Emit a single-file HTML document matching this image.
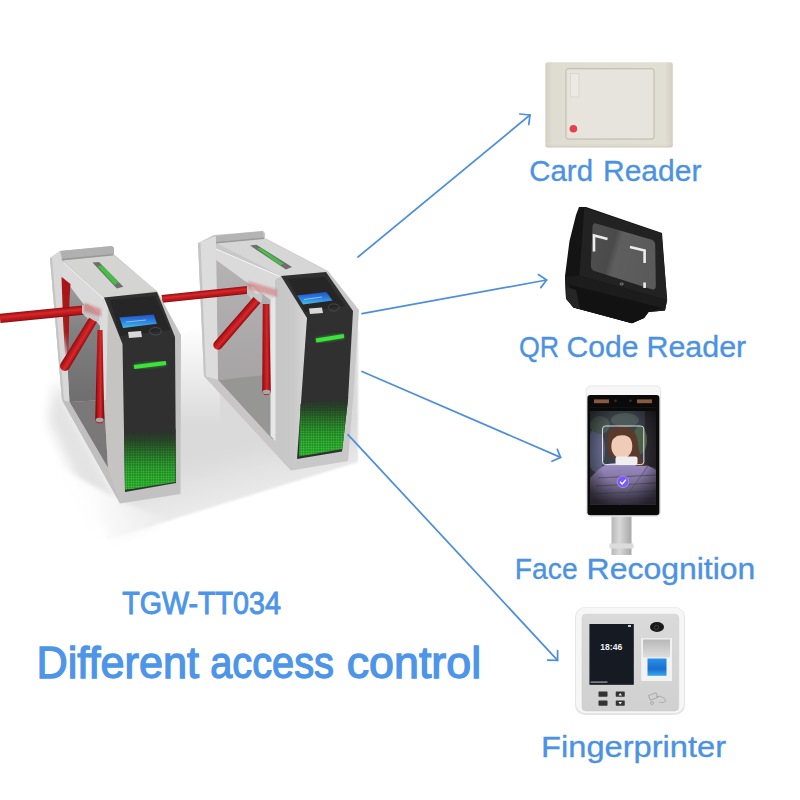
<!DOCTYPE html>
<html><head><meta charset="utf-8">
<style>
html,body{margin:0;padding:0;background:#fff;}
body{width:800px;height:800px;overflow:hidden;position:relative;font-family:"Liberation Sans",sans-serif;}
svg{position:absolute;left:0;top:0;}
</style></head>
<body>
<svg width="800" height="800" viewBox="0 0 800 800">
<defs>
  <filter id="blur6" x="-50%" y="-50%" width="200%" height="200%"><feGaussianBlur stdDeviation="6"/></filter>
  <filter id="blur2" x="-50%" y="-50%" width="200%" height="200%"><feGaussianBlur stdDeviation="2"/></filter>
  <filter id="blur1" x="-50%" y="-50%" width="200%" height="200%"><feGaussianBlur stdDeviation="0.8"/></filter>
  <filter id="blur05" x="-50%" y="-50%" width="200%" height="200%"><feGaussianBlur stdDeviation="0.5"/></filter>
  <linearGradient id="led" x1="0" y1="0" x2="0" y2="1">
    <stop offset="0" stop-color="#303030"/>
    <stop offset="0.2" stop-color="#243a24"/>
    <stop offset="0.6" stop-color="#1d6e1f"/>
    <stop offset="0.97" stop-color="#1f8a21"/>
    <stop offset="1" stop-color="#1a2a1a"/>
  </linearGradient>
  <linearGradient id="ledm" x1="0" y1="0" x2="0" y2="1">
    <stop offset="0" stop-color="#000"/>
    <stop offset="0.15" stop-color="#333"/>
    <stop offset="0.6" stop-color="#ccc"/>
    <stop offset="1" stop-color="#fff"/>
  </linearGradient>
  <mask id="ledmask1" maskContentUnits="userSpaceOnUse"><rect x="120" y="432" width="60" height="62" fill="url(#ledm)"/></mask>
  <mask id="ledmask2" maskContentUnits="userSpaceOnUse"><rect x="295" y="400" width="56" height="60" fill="url(#ledm)"/></mask>
  <pattern id="dots" width="2.5" height="2.5" patternUnits="userSpaceOnUse">
    <rect x="0.45" y="0.45" width="1.6" height="1.6" fill="#44e244"/>
  </pattern>
  <linearGradient id="floor" gradientUnits="userSpaceOnUse" x1="62" y1="466" x2="93" y2="449">
    <stop offset="0" stop-color="#ffffff"/>
    <stop offset="1" stop-color="#e4e4e4"/>
  </linearGradient>
  <linearGradient id="floorG" gradientUnits="userSpaceOnUse" x1="200" y1="455" x2="212" y2="507">
    <stop offset="0" stop-color="#dadada"/>
    <stop offset="1" stop-color="#eaeaea"/>
  </linearGradient>
  <linearGradient id="floorFade" gradientUnits="userSpaceOnUse" x1="95" y1="0" x2="170" y2="0">
    <stop offset="0" stop-color="#fff" stop-opacity="0.9"/>
    <stop offset="1" stop-color="#fff" stop-opacity="0"/>
  </linearGradient>
  <linearGradient id="cab2" gradientUnits="userSpaceOnUse" x1="276" y1="0" x2="306" y2="0">
    <stop offset="0" stop-color="#c6c6c6"/><stop offset="0.6" stop-color="#c9c9c9"/><stop offset="1" stop-color="#d6d6d6"/>
  </linearGradient>
  <linearGradient id="floorV" gradientUnits="userSpaceOnUse" x1="0" y1="325" x2="0" y2="425">
    <stop offset="0" stop-color="#ffffff"/>
    <stop offset="1" stop-color="#ffffff" stop-opacity="0"/>
  </linearGradient>
  <linearGradient id="scr" x1="0" y1="0" x2="0" y2="1">
    <stop offset="0" stop-color="#2552c8"/>
    <stop offset="0.5" stop-color="#2c7fe0"/>
    <stop offset="1" stop-color="#44c0e4"/>
  </linearGradient>
  <linearGradient id="in1" x1="0" y1="0" x2="0" y2="1">
    <stop offset="0" stop-color="#a2a2a2"/>
    <stop offset="0.45" stop-color="#808080"/>
    <stop offset="1" stop-color="#6e6e6e"/>
  </linearGradient>
  <linearGradient id="in2" x1="0" y1="0" x2="0" y2="1">
    <stop offset="0" stop-color="#b4b2b2"/>
    <stop offset="1" stop-color="#a6a4a4"/>
  </linearGradient>
  <linearGradient id="redref" x1="0" y1="0" x2="0" y2="1">
    <stop offset="0" stop-color="#a81616"/>
    <stop offset="0.7" stop-color="#a81616" stop-opacity="0.95"/>
    <stop offset="1" stop-color="#a81616" stop-opacity="0.2"/>
  </linearGradient>
  <radialGradient id="hub" cx="0.5" cy="0.5" r="0.5">
    <stop offset="0" stop-color="#e06a6a"/>
    <stop offset="0.6" stop-color="#e8a0a0" stop-opacity="0.6"/>
    <stop offset="1" stop-color="#f0d0d0" stop-opacity="0"/>
  </radialGradient>
  <linearGradient id="ag1" gradientUnits="userSpaceOnUse" x1="204.59" y1="290.42" x2="205.41" y2="298.18"><stop offset="0" stop-color="#8a0e12"/><stop offset="0.18" stop-color="#b8161b"/><stop offset="0.4" stop-color="#d42a2c"/><stop offset="0.6" stop-color="#c61c20"/><stop offset="0.85" stop-color="#aa1418"/><stop offset="1" stop-color="#7e0c10"/></linearGradient>
  <linearGradient id="ag2" gradientUnits="userSpaceOnUse" x1="241.00" y1="325.53" x2="234.00" y2="319.47"><stop offset="0" stop-color="#8a0e12"/><stop offset="0.18" stop-color="#b8161b"/><stop offset="0.4" stop-color="#d42a2c"/><stop offset="0.6" stop-color="#c61c20"/><stop offset="0.85" stop-color="#aa1418"/><stop offset="1" stop-color="#7e0c10"/></linearGradient>
  <linearGradient id="ag3" gradientUnits="userSpaceOnUse" x1="270.00" y1="347.48" x2="262.50" y2="347.52"><stop offset="0" stop-color="#8a0e12"/><stop offset="0.18" stop-color="#b8161b"/><stop offset="0.4" stop-color="#d42a2c"/><stop offset="0.6" stop-color="#c61c20"/><stop offset="0.85" stop-color="#aa1418"/><stop offset="1" stop-color="#7e0c10"/></linearGradient>
  <linearGradient id="ag4" gradientUnits="userSpaceOnUse" x1="42.54" y1="309.47" x2="43.46" y2="318.73"><stop offset="0" stop-color="#8a0e12"/><stop offset="0.18" stop-color="#b8161b"/><stop offset="0.4" stop-color="#d42a2c"/><stop offset="0.6" stop-color="#c61c20"/><stop offset="0.85" stop-color="#aa1418"/><stop offset="1" stop-color="#7e0c10"/></linearGradient>
  <linearGradient id="ag5" gradientUnits="userSpaceOnUse" x1="83.06" y1="345.47" x2="74.94" y2="340.53"><stop offset="0" stop-color="#8a0e12"/><stop offset="0.18" stop-color="#b8161b"/><stop offset="0.4" stop-color="#d42a2c"/><stop offset="0.6" stop-color="#c61c20"/><stop offset="0.85" stop-color="#aa1418"/><stop offset="1" stop-color="#7e0c10"/></linearGradient>
  <linearGradient id="ag6" gradientUnits="userSpaceOnUse" x1="103.35" y1="374.51" x2="96.35" y2="374.49"><stop offset="0" stop-color="#8a0e12"/><stop offset="0.18" stop-color="#b8161b"/><stop offset="0.4" stop-color="#d42a2c"/><stop offset="0.6" stop-color="#c61c20"/><stop offset="0.85" stop-color="#aa1418"/><stop offset="1" stop-color="#7e0c10"/></linearGradient>
</defs>

<!-- floor shadow -->
<polygon points="56,380 66,400 122,505 160,520 112,536 92,515 48,420" fill="#e3e3e3" filter="url(#blur6)"/>
<polygon points="118,500 106,540 358,462 358,330 190,330 182,335" fill="url(#floorG)" filter="url(#blur1)"/>
<polygon points="60,468 125,503 175,522 106,546 60,546" fill="url(#floorFade)" filter="url(#blur2)"/>
<rect x="150" y="300" width="70" height="130" fill="url(#floorV)"/>

<!-- ===== T2 (right turnstile) ===== -->
<polygon points="198,243 214,235 263,231 265,233 265,238 328,271 359,310 353,400 348,461 291,470.5 204,376" fill="#c8c8c8"/>
<polygon points="216,243 264,238 328,272 281,276" fill="#d6d6d6"/>
<polygon points="214,236 263,231 264,238 216,243" fill="#b4b4b4"/>
<polygon points="216,242 264,237.5 264,239 216,243.5" fill="#9a9a9a"/>
<polygon points="216,249 281,276 276,304 216,260" fill="#dadada"/>
<line x1="216" y1="249" x2="281" y2="277" stroke="#f4f4f4" stroke-width="1"/>
<polygon points="216,260 276,304 275,375 218,380" fill="url(#in2)"/>
<polygon points="218,380 275,374 275,439 272,439" fill="#969694"/>
<polygon points="198.5,243 216,236 216,243 218,380 204,376" fill="#dcdcdc"/>
<polygon points="198,243 200.5,243 206,377 204,376" fill="#c4c4c4"/>
<polygon points="204,376 218,380 273,440 291,470.5" fill="#c8c6c6"/>
<polygon points="275,280 281,276 307,318 298,459 291,470.5 275,440" fill="url(#cab2)"/>
<polygon points="270.5,300 275.5,296 275.5,441 270.5,436" fill="#e6e6e6"/>
<polygon points="250,245.5 256.5,244.8 292,267 286,269.5" fill="#6e6e6e"/>
<polygon points="257,248.6 260.8,248 283.5,263.6 280.5,265.2" fill="#40c440"/>
<polygon points="281,276 326,272 353,311 348,400 342,451.5 297,459 307,318" fill="#303030"/>
<polygon points="288,279 325,277 345,306 305,312" fill="#262626"/>
<polygon points="297,295.6 326.3,292 332.5,300.6 303,304.4" fill="url(#scr)"/>
<line x1="304" y1="299.5" x2="322" y2="297" stroke="#cfe8ff" stroke-width="1" opacity="0.6"/>
<polygon points="309,308.5 322,307.5 323,313 310,314" fill="#d8d8d8"/>
<ellipse cx="333.8" cy="307.5" rx="5.5" ry="3.6" fill="none" stroke="#505050" stroke-width="0.8"/>
<line x1="316" y1="340.5" x2="344" y2="336" stroke="#3be33b" stroke-width="6" opacity="0.35" filter="url(#blur1)"/>
<line x1="316" y1="340.5" x2="344" y2="336" stroke="#3be33b" stroke-width="4"/>
<polygon points="300.5,404 348.2,397 342.3,449 299,456.5" fill="url(#led)"/>
<polygon points="300.5,404 348.2,397 342.3,449 299,456.5" fill="url(#dots)" mask="url(#ledmask2)"/>

<!-- T2 arms -->
<path d="M162.41,302.68 L248.41,293.68 A3.90,3.90 0 0 0 247.59,285.92 L161.59,294.92 Z" fill="url(#ag1)"/>
<polygon points="247,286 254,285 262,293 262,302 254,302 247,294" fill="#c6c6c6"/>
<polygon points="250,287 254,286.5 260,293 256,294" fill="#dedede"/>
<path d="M253.60,297.05 L214.41,341.89 A4.75,4.75 0 0 0 221.59,348.11 L260.40,302.95 Z" fill="url(#ag2)"/>
<path d="M262.75,304.02 L262.25,391.02 A4.25,4.25 0 0 0 270.75,390.98 L269.25,303.98 Z" fill="url(#ag3)"/>
<polygon points="248,281 277,289.5 277,297 248,289" fill="#d25858" opacity="0.45" filter="url(#blur1)"/>
<ellipse cx="266.5" cy="392" rx="4" ry="2.2" fill="#a8a8a8"/>

<!-- ===== T1 (left turnstile) ===== -->
<polygon points="50,258 60,251 112,246 114,248 114,254.5 157.4,291.7 181,335 180.5,494 120,503.5 62,400" fill="#c2c2c2"/>
<polygon points="62,260 113,255 157,291 104,298" fill="#d4d4d2"/>
<polygon points="60,251 112,246 114,248 114,254.5 63,259.5" fill="#b0b0b0"/>
<polygon points="62,258.8 113,254 113,255.5 62,260.5" fill="#989898"/>
<polygon points="62,261 104,298 103,312 100,326 62,276" fill="#dadada"/>
<line x1="64" y1="263" x2="104" y2="299" stroke="#f2f2f2" stroke-width="1"/>
<polygon points="62,276 100,326 104,400 69.5,402" fill="url(#in1)"/>
<polygon points="69.5,402 104,400 108,468" fill="#7a7878"/>
<polygon points="50,258 60,251 62,262 69.5,402 62,400" fill="#d8d8d8"/>
<polygon points="50,258 52,258 64,400 62,400" fill="#c4c4c4"/>
<polygon points="61.5,277 70.5,284 69.5,300 68.5,356 65,354 63,320" fill="url(#redref)"/>
<polygon points="62,400 69.5,402 108,468 120,503" fill="#bfbfbf"/>
<polygon points="100,326 104,298 123,344 125,492 120,503 108,468 104,400" fill="#c6c4c2"/>
<polygon points="100,326 104,298 108,305 106,400 104,400" fill="#dcdcdc"/>
<polygon points="92.4,262.4 99,262 123.3,286.8 116.8,288.4" fill="#6e6e6e"/>
<polygon points="97.5,266.3 102.3,265.6 118.3,282.5 114.6,284.8" fill="#40c240"/>
<polygon points="104,297.5 157,292 175,337 176,483 125,492 122.5,344" fill="#303030"/>
<polygon points="110,300 155,296 170,330 120,336" fill="#262626"/>
<polygon points="119.4,317.5 153.75,314.4 156.9,323.75 123.1,328.1" fill="url(#scr)"/>
<line x1="126" y1="322" x2="146" y2="320" stroke="#cfe8ff" stroke-width="1.2" opacity="0.6"/>
<polygon points="128,332 141,331 142,337 129,338" fill="#d8d8d8"/>
<ellipse cx="155.6" cy="331.3" rx="6" ry="3.8" fill="none" stroke="#505050" stroke-width="0.8"/>
<line x1="134" y1="367" x2="166" y2="363" stroke="#3be33b" stroke-width="6" opacity="0.35" filter="url(#blur1)"/>
<line x1="134" y1="367" x2="166" y2="363" stroke="#3be33b" stroke-width="3.8"/>
<polygon points="124.5,434 175.5,429 175.5,482 125,490" fill="url(#led)"/>
<polygon points="124.5,434 175.5,429 175.5,482 125,490" fill="url(#dots)" mask="url(#ledmask1)"/>

<!-- T1 arms -->
<path d="M0.46,323.03 L86.46,314.43 A4.65,4.65 0 0 0 85.54,305.17 L-0.46,313.77 Z" fill="url(#ag4)"/>
<polygon points="82,305 88,304 99,314 99,321 90,321 82,313" fill="#c6c6c6"/>
<path d="M89.16,317.66 L60.73,363.40 A5.00,5.00 0 0 0 69.27,368.60 L96.84,322.34 Z" fill="url(#ag5)"/>
<path d="M97.50,329.99 L95.20,418.98 A4.50,4.50 0 0 0 104.20,419.02 L102.50,330.01 Z" fill="url(#ag6)"/>
<polygon points="84,302.5 101,309 101,316.5 84,311.5" fill="#d25858" opacity="0.5" filter="url(#blur1)"/>
<ellipse cx="99.7" cy="420" rx="4" ry="2.2" fill="#a8a8a8"/>

<!-- ===== arrows ===== -->
<g stroke="#4e8fdc" stroke-width="1.75" fill="none" stroke-linecap="round" stroke-linejoin="round">
  <line x1="358" y1="257" x2="530" y2="115"/>
  <polyline points="520,114 530,115 528.8,124.5"/>
  <line x1="362" y1="313.6" x2="546.6" y2="280"/>
  <polyline points="538.4,274.6 546.6,280 540.8,287.6"/>
  <line x1="362" y1="371.5" x2="560.6" y2="457.4"/>
  <polyline points="557.3,449.3 560.6,457.4 552,461.3"/>
  <line x1="348" y1="434.6" x2="557.6" y2="660.3"/>
  <polyline points="557.6,650.5 557.6,660.3 547.7,660.2"/>
</g>

<!-- ===== Card reader ===== -->
<defs><linearGradient id="cardg" x1="0" y1="0" x2="1" y2="0">
<stop offset="0" stop-color="#d4d0c3"/><stop offset="0.06" stop-color="#dfdcd1"/><stop offset="0.94" stop-color="#e1ded4"/><stop offset="1" stop-color="#d2cec2"/>
</linearGradient><linearGradient id="cardv" x1="0" y1="0" x2="0" y2="1">
<stop offset="0" stop-color="#fff" stop-opacity="0"/><stop offset="0.93" stop-color="#fff" stop-opacity="0"/><stop offset="1" stop-color="#b0aa98" stop-opacity="0.35"/>
</linearGradient></defs>
<rect x="545.3" y="62.2" width="127.5" height="85.3" rx="2.5" fill="url(#cardg)"/>
<rect x="545.3" y="62.2" width="127.5" height="85.3" rx="2.5" fill="url(#cardv)"/>
<rect x="566" y="68.75" width="88" height="70.25" rx="2" fill="#e6e4dc" stroke="#b9b3a4" stroke-width="0.9"/>
<rect x="570.6" y="73.4" width="8.4" height="23.6" fill="#ebe9e2" stroke="#d2cec4" stroke-width="0.6"/>
<circle cx="573.4" cy="128.75" r="3.8" fill="#e8404a"/>

<!-- ===== QR reader ===== -->
<defs>
<linearGradient id="qrs" x1="0" y1="0" x2="1" y2="0.3">
  <stop offset="0" stop-color="#505050"/>
  <stop offset="0.4" stop-color="#4a4a4a"/>
  <stop offset="0.5" stop-color="#5e5e5e"/>
  <stop offset="1" stop-color="#5a5a5a"/>
</linearGradient>
</defs>
<polygon points="579,207 586,207 662,233 667,300 665,310.5 648.5,312 644,318 632,323.3 573.5,307.5 566,298.5 565,276 569.5,241 576,215" fill="#141414"/>
<polygon points="579.4,275.6 667.2,300 665,310.5 648.5,312 644,318 632,323.3 573.5,307.5 566,298.5 565,277" fill="#1c1c1c"/>
<polygon points="570,285 662,308 648.5,312 644,318 632,323.3 573.5,307.5 566,298.5" fill="#121212"/>
<polygon points="567,287 576,290 580,309 573.5,307.5 566,298.5" fill="#262626"/>
<polygon points="584.3,207.8 661.5,233.3 667.2,300 579.4,275.6" fill="#222"/>
<path d="M596,223.5 L651,239.5 Q655,240.7 655.2,245 L655.8,286 Q655.8,290.5 651.5,289.3 L594.5,271 Q590.8,269.8 590.9,265.5 L592.5,227 Q593,222.6 596,223.5 Z" fill="url(#qrs)"/>
<g stroke="#ececec" stroke-width="2.6" fill="none">
  <polyline points="594,251.5 594,235.5 607.5,239"/>
  <polyline points="630,247 644.6,250.6 644.6,263"/>
  <line x1="644.6" y1="282.5" x2="644.6" y2="288"/>
</g>
<ellipse cx="621.7" cy="283.9" rx="1.6" ry="1" fill="none" stroke="#bbb" stroke-width="0.6"/>
<!-- ===== Face recognition ===== -->
<defs>
<linearGradient id="pole" x1="0" y1="0" x2="1" y2="0">
  <stop offset="0" stop-color="#b8b8b8"/><stop offset="0.4" stop-color="#d8d8d8"/><stop offset="1" stop-color="#a8a8a8"/>
</linearGradient>
<linearGradient id="sweater" x1="0" y1="0" x2="0" y2="1">
  <stop offset="0" stop-color="#9d8cc8"/><stop offset="0.45" stop-color="#7e7398"/><stop offset="1" stop-color="#4a4558"/>
</linearGradient>
<radialGradient id="vig" cx="0.5" cy="0.45" r="0.65">
  <stop offset="0.55" stop-color="#000" stop-opacity="0"/><stop offset="1" stop-color="#000" stop-opacity="0.55"/>
</radialGradient>
<clipPath id="fscr"><rect x="590" y="407.5" width="66" height="97"/></clipPath>
</defs>
<rect x="611.5" y="515" width="20" height="40" fill="url(#pole)"/>
<rect x="609.5" y="543.5" width="24" height="5" fill="#dcdcdc"/>
<rect x="586.3" y="385.9" width="74.2" height="130.5" rx="4.5" fill="#f7f7f7" stroke="#d8d8d8" stroke-width="0.6"/>
<rect x="587.4" y="395" width="72" height="120.3" rx="3" fill="#0a0a0a"/>
<rect x="594" y="399.4" width="15" height="3.8" fill="#8a5a3c"/>
<rect x="637" y="399.4" width="15" height="3.8" fill="#8a5a3c"/>
<circle cx="615.5" cy="400.8" r="1.3" fill="#333"/>
<circle cx="630.5" cy="400.8" r="1.3" fill="#333"/>
<g clip-path="url(#fscr)">
  <rect x="590" y="407.5" width="66" height="97" fill="#3a4148"/>
  <ellipse cx="596" cy="450" rx="9" ry="22" fill="#5e6280"/>
  <ellipse cx="600" cy="425" rx="10" ry="9" fill="#4c5a56"/>
  <ellipse cx="625" cy="420" rx="14" ry="7" fill="#4e5a5a"/>
  <rect x="645" y="407.5" width="11" height="60" fill="#2c2a30"/>
  <ellipse cx="640" cy="440" rx="7" ry="14" fill="#4a6048"/>
  <path d="M598,470 Q606,462 617,463 L636,463 Q650,465 656,470 L656,505 L590,505 L590,478 Z" fill="url(#sweater)"/>
  <g stroke="#4e4666" stroke-width="0.9" opacity="0.8">
    <line x1="598" y1="478" x2="656" y2="475"/>
    <line x1="596" y1="486" x2="656" y2="483"/>
    <line x1="594" y1="494" x2="656" y2="491"/>
    <line x1="592" y1="501" x2="656" y2="498"/>
  </g>
  <line x1="648" y1="466" x2="620" y2="505" stroke="#5a5070" stroke-width="0.8"/>
  <path d="M607,442 Q606,428 620,426.8 Q634,426.5 637,438 L640,455 Q642,462 647,466 L636,466 L632,458 L612,458 Q606,452 607,442 Z" fill="#5a3a2a"/>
  <ellipse cx="621.8" cy="446" rx="10.5" ry="12.8" fill="#f0ccb8"/>
  <path d="M610.5,441 Q611,430 622,429.5 Q633,430.5 633.5,441 Q627,433 617,436 Z" fill="#5a3a2a"/>
  <rect x="615.5" y="456.5" width="22" height="8.5" rx="2" fill="#efefef"/>
  <rect x="602.5" y="426" width="41.3" height="38.6" rx="3" fill="none" stroke="#f2f2f2" stroke-width="0.9"/>
  <rect x="590" y="407.5" width="66" height="97" fill="url(#vig)"/>
  <rect x="590" y="407.5" width="66" height="3.5" fill="#0a0a0a"/>
  <circle cx="622.9" cy="481.8" r="5.8" fill="#7a5cf0" stroke="#b8a8ff" stroke-width="0.6"/>
  <polyline points="620,481.8 622.2,484 626,479.6" stroke="#fff" stroke-width="1.3" fill="none"/>
</g>
<!-- ===== Fingerprinter ===== -->
<defs>
<linearGradient id="fpface" x1="0" y1="0" x2="0" y2="1">
  <stop offset="0" stop-color="#dadada"/><stop offset="1" stop-color="#d0d0d0"/>
</linearGradient>
<linearGradient id="fpwin" x1="0" y1="0" x2="0" y2="1">
  <stop offset="0" stop-color="#b8b8b8"/><stop offset="1" stop-color="#dedede"/>
</linearGradient>
<linearGradient id="fpblue" x1="0" y1="0" x2="0" y2="1">
  <stop offset="0" stop-color="#2a90e8"/><stop offset="0.6" stop-color="#1a6fd0"/><stop offset="1" stop-color="#39a6f0"/>
</linearGradient>
</defs>
<rect x="575" y="607" width="110" height="108" rx="10" fill="#e4e4e4"/>
<rect x="576" y="607.5" width="108" height="105.5" rx="9" fill="#f6f6f6"/>
<rect x="582" y="614.25" width="96.75" height="96.75" rx="4" fill="url(#fpface)" stroke="#c8c8c8" stroke-width="0.5"/>
<rect x="589.5" y="624" width="44.25" height="60.75" fill="#14161c"/>
<rect x="589.5" y="624" width="44.25" height="60.75" fill="#1c2436" opacity="0.3"/>
<text x="611.3" y="650" font-family="Liberation Sans" font-weight="bold" font-size="9" fill="#f0f0f0" text-anchor="middle" textLength="22" lengthAdjust="spacingAndGlyphs">18:46</text>
<rect x="590.5" y="681.5" width="17" height="1.2" fill="#aaa"/>
<rect x="628" y="625" width="3" height="2" fill="#ccc"/>
<ellipse cx="657" cy="627" rx="7" ry="5" fill="#1a1a1a"/>
<circle cx="656.5" cy="627.5" r="2.2" fill="none" stroke="#555" stroke-width="0.6"/>
<rect x="641.25" y="638.25" width="30.75" height="42.75" fill="#f2f2f2"/>
<rect x="643" y="639.5" width="27" height="18" fill="url(#fpwin)"/>
<rect x="647.5" y="658.5" width="19" height="17.3" fill="url(#fpblue)"/>
<rect x="598.5" y="691.5" width="9" height="5.2" rx="0.6" fill="#333"/>
<rect x="615.75" y="691.5" width="9" height="5.2" rx="0.6" fill="#333"/>
<rect x="598.5" y="700.5" width="9" height="5.2" rx="0.6" fill="#333"/>
<rect x="615.75" y="700.5" width="9" height="5.2" rx="0.6" fill="#333"/>
<path d="M618.5,695.5 L620.2,693 L622,695.5 Z M618.5,702 L620.2,704.5 L622,702 Z" fill="#eee"/>
<g stroke="#888" stroke-width="0.5" fill="none">
  <rect x="649" y="694" width="8" height="5" transform="rotate(-20 653 696)"/>
  <path d="M656,697 Q660,695 664,698 L666,701 Q663,704 659,702"/>
  <circle cx="652" cy="703" r="1.5"/>
</g>


<!-- ===== text ===== -->
<g font-family="Liberation Sans">
<text x="529.28" y="180.80" font-size="30" fill="#4c92e2" stroke="#4c92e2" stroke-width="0.35" textLength="63.73" lengthAdjust="spacingAndGlyphs">Card</text>
<text x="603.00" y="180.80" font-size="30" fill="#4c92e2" stroke="#4c92e2" stroke-width="0.35" textLength="98.41" lengthAdjust="spacingAndGlyphs">Reader</text>
<text x="518.95" y="356.90" font-size="30" fill="#4c92e2" stroke="#4c92e2" stroke-width="0.35" textLength="40.20" lengthAdjust="spacingAndGlyphs">QR</text>
<text x="566.49" y="356.90" font-size="30" fill="#4c92e2" stroke="#4c92e2" stroke-width="0.35" textLength="72.00" lengthAdjust="spacingAndGlyphs">Code</text>
<text x="646.47" y="356.90" font-size="30" fill="#4c92e2" stroke="#4c92e2" stroke-width="0.35" textLength="99.74" lengthAdjust="spacingAndGlyphs">Reader</text>
<text x="514.86" y="579.00" font-size="30" fill="#4c92e2" stroke="#4c92e2" stroke-width="0.35" textLength="62.80" lengthAdjust="spacingAndGlyphs">Face</text>
<text x="586.62" y="579.00" font-size="30" fill="#4c92e2" stroke="#4c92e2" stroke-width="0.35" textLength="168.75" lengthAdjust="spacingAndGlyphs">Recognition</text>
<text x="541.07" y="757.00" font-size="30" fill="#4c92e2" stroke="#4c92e2" stroke-width="0.35" textLength="185.01" lengthAdjust="spacingAndGlyphs">Fingerprinter</text>
<text x="122.25" y="613.80" font-size="32" fill="#4d95e8" stroke="#4d95e8" stroke-width="1" textLength="158.68" lengthAdjust="spacingAndGlyphs">TGW-TT034</text>
<text x="36.43" y="678.00" font-size="43.6" fill="#4d95e8" stroke="#4d95e8" stroke-width="1.3" textLength="162.56" lengthAdjust="spacingAndGlyphs">Different</text>
<text x="210.18" y="678.00" font-size="43.6" fill="#4d95e8" stroke="#4d95e8" stroke-width="1.3" textLength="123.71" lengthAdjust="spacingAndGlyphs">access</text>
<text x="346.69" y="678.00" font-size="43.6" fill="#4d95e8" stroke="#4d95e8" stroke-width="1.3" textLength="134.47" lengthAdjust="spacingAndGlyphs">control</text>
</g>
</svg>
</body></html>
